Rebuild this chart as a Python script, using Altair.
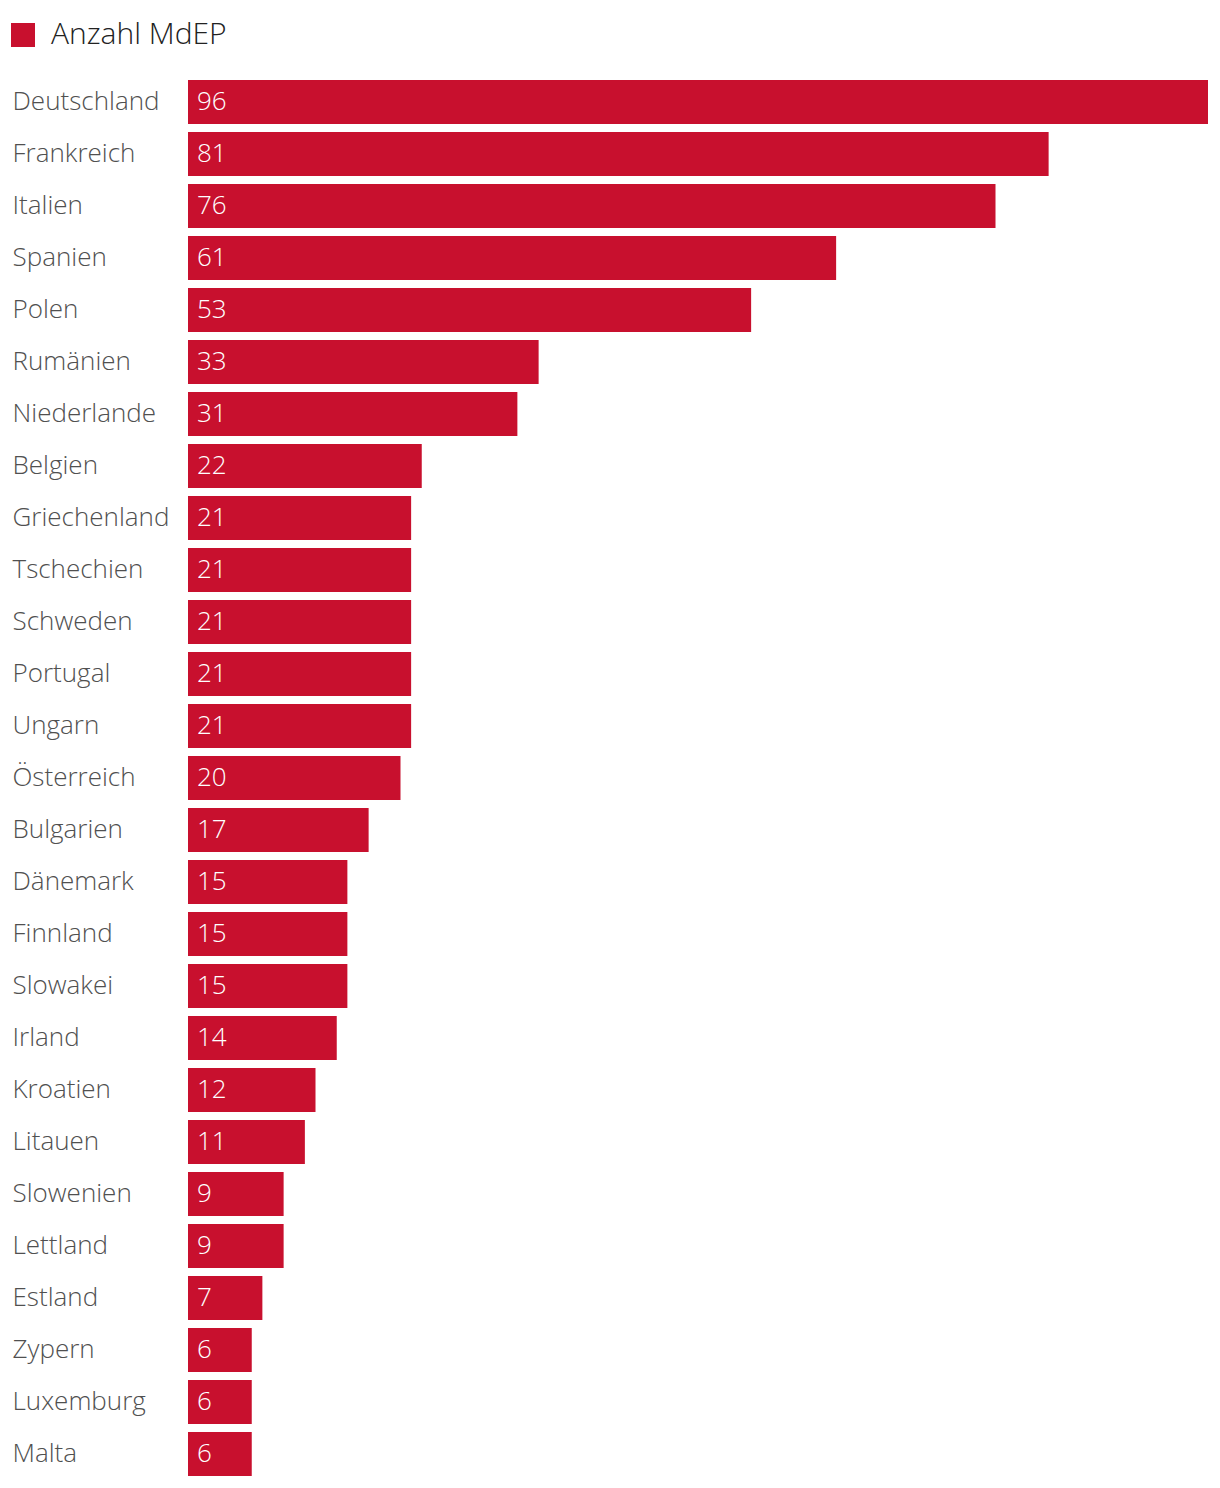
import altair as alt
import pandas as pd

countries = ["Deutschland", "Frankreich", "Italien", "Spanien", "Polen", "Rumänien",
             "Niederlande", "Belgien", "Griechenland", "Tschechien", "Schweden", "Portugal",
             "Ungarn", "Österreich", "Bulgarien", "Dänemark", "Finnland", "Slowakei",
             "Irland", "Kroatien", "Litauen", "Slowenien", "Lettland", "Estland",
             "Zypern", "Luxemburg", "Malta"]
values = [96, 81, 76, 61, 53, 33, 31, 22, 21, 21, 21, 21, 21, 20, 17, 15, 15, 15,
          14, 12, 11, 9, 9, 7, 6, 6, 6]
series = "Anzahl MdEP"

df = pd.DataFrame({"Land": countries, "Wert": values, "Serie": [series] * len(countries)})

FONT = "Open Sans"
RED = "#C8102E"

y = alt.Y("Land:N", sort=countries, title=None,
          scale=alt.Scale(paddingInner=8 / 52, paddingOuter=4 / 52),
          axis=alt.Axis(ticks=False, domain=False, labelAlign="left", labelPadding=176,
                        labelFontSize=26, labelColor="#505050", labelFont=FONT,
                        labelFontWeight=300, labelLimit=172))
x = alt.X("Wert:Q", title=None, scale=alt.Scale(domain=[0, 96], nice=False, zero=True),
          axis=None)

bars = alt.Chart(df).mark_bar(cornerRadius=0).encode(
    x=x, y=y,
    color=alt.Color("Serie:N", title=None,
                    scale=alt.Scale(domain=[series], range=[RED]),
                    legend=alt.Legend(orient="none", legendX=-180, legendY=-56,
                                      symbolType="square", symbolSize=576,
                                      symbolStrokeWidth=0, symbolOpacity=1,
                                      labelFontSize=30, labelFont=FONT,
                                      labelFontWeight=300, labelLimit=500,
                                      labelColor="#222222", labelOffset=13,
                                      padding=0)),
)

text = alt.Chart(df).mark_text(align="left", baseline="middle", dx=9, fontSize=26,
                               font=FONT, fontWeight=300, color="white").encode(
    x=alt.X("zero:Q", scale=alt.Scale(domain=[0, 96], nice=False), axis=None),
    y=alt.Y("Land:N", sort=countries),
    text="Wert:Q",
).transform_calculate(zero="0")

chart = alt.layer(bars, text).properties(
    width=1020, height=1404,
    autosize=alt.AutoSizeParams(type="none"),
    padding={"left": 180, "top": 68, "right": 4, "bottom": 4},
).configure_view(stroke=None)

chart.save("out.html", embed_options={"renderer": "svg", "actions": False})
